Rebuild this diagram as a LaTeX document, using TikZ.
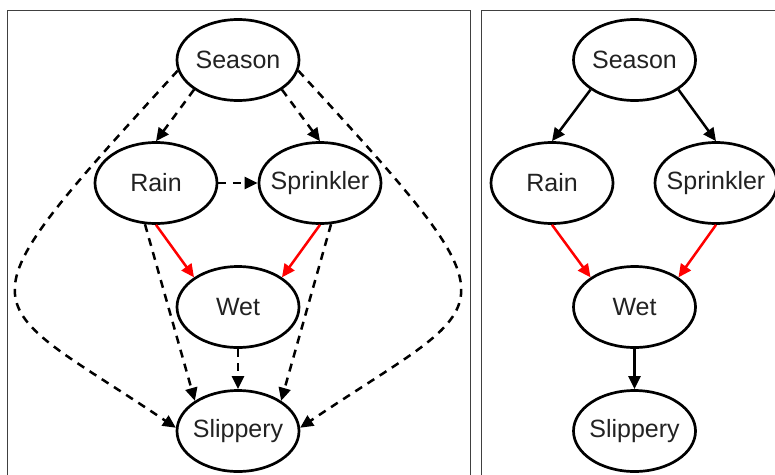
\documentclass[tikz,border=0pt]{standalone}
\usepackage{fontspec}
\setmainfont{Liberation Sans}
\usetikzlibrary{arrows.meta,shapes.geometric}
\definecolor{panelgray}{RGB}{64,64,64}
\definecolor{labelink}{RGB}{34,34,34}
% keep the label from widening its ellipse
\newcommand{\vlabel}[1]{\makebox[0pt]{#1}}
\begin{document}
\begin{tikzpicture}[x=1pt,y=-1pt,
  var/.style={ellipse, draw=black, line width=2.7pt, minimum width=122pt,
    minimum height=81pt, inner sep=0pt, fill=white, text=labelink,
    font=\fontsize{25}{29}\selectfont},
  link/.style={line width=2.5pt, draw=black, -{Triangle[length=13pt,width=12pt]}},
  latentlink/.style={link, dash pattern=on 8pt off 6.5pt},
  redlink/.style={link, draw=red},
  panel/.style={draw=panelgray, line width=1pt}]
\useasboundingbox (0,0) rectangle (775,474);
\clip (0,0) rectangle (775,474);

% panel frames
\draw[panel] (7.5,490) -- (7.5,10.5) -- (470.5,10.5) -- (470.5,490);
\draw[panel] (481.5,490) -- (481.5,10.5) -- (790,10.5);

% left network: full graph with hidden dependencies
\node[var] (season) at (238,60) {\vlabel{Season}};
\node[var] (rain)   at (156,183) {\vlabel{Rain}};
\node[var] (sprk)   at (320,183) {\vlabel{Sprinkler}};
\node[var] (wet)    at (238,307) {\vlabel{Wet}};
\node[var] (slip)   at (238,431) {\vlabel{Slippery}};

\draw[latentlink] (season.214) -- (rain.north);
\draw[latentlink] (season.326) -- (sprk.north);
\draw[latentlink] (rain.east) -- (sprk.west);
\draw[redlink] (rain.south) -- (wet.146);
\draw[redlink] (sprk.south) -- (wet.34);
\draw[latentlink] (rain.255) -- (slip.145);
\draw[latentlink] (sprk.285) -- (slip.35);
\draw[latentlink] (wet.south) -- (slip.north);
\draw[latentlink] (season.190) .. controls +(-229.5,251) and +(-199,-134) .. (slip.177);
\draw[latentlink] (season.-10) .. controls +(229.5,251) and +(199,-134) .. (slip.3);

% right network: sparse causal graph
\node[var] (season2) at (634.5,60) {\vlabel{Season}};
\node[var] (rain2)   at (552,183) {\vlabel{Rain}};
\node[var] (sprk2)   at (716,183) {\vlabel{Sprinkler}};
\node[var] (wet2)    at (634.5,307) {\vlabel{Wet}};
\node[var] (slip2)   at (634.5,431) {\vlabel{Slippery}};

\draw[link] (season2.214) -- (rain2.north);
\draw[link] (season2.326) -- (sprk2.north);
\draw[redlink] (rain2.south) -- (wet2.146);
\draw[redlink] (sprk2.south) -- (wet2.34);
\draw[link] (wet2.south) -- (slip2.north);
\end{tikzpicture}
\end{document}
